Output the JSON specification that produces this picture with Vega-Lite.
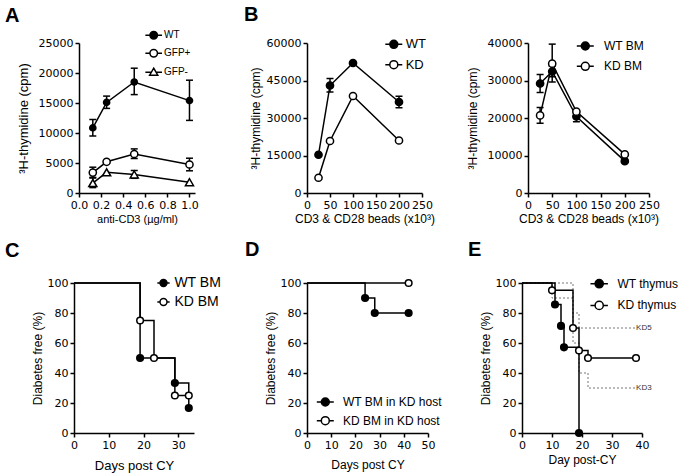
{
  "$schema": "https://vega.github.io/schema/vega-lite/v6.json",
  "background": "white",
  "padding": 5,
  "datasets": {
    "A": [
      {"conc": 0.125, "cpm": 10850, "lo": 9500, "hi": 12250, "group": "WT"},
      {"conc": 0.25, "cpm": 15100, "lo": 14100, "hi": 16150, "group": "WT"},
      {"conc": 0.5, "cpm": 18500, "lo": 16400, "hi": 20800, "group": "WT"},
      {"conc": 1.0, "cpm": 15400, "lo": 12100, "hi": 18800, "group": "WT"},
      {"conc": 0.125, "cpm": 3400, "lo": 2500, "hi": 4300, "group": "GFP+"},
      {"conc": 0.25, "cpm": 5200, "group": "GFP+"},
      {"conc": 0.5, "cpm": 6500, "lo": 5750, "hi": 7350, "group": "GFP+"},
      {"conc": 1.0, "cpm": 4750, "lo": 3700, "hi": 5800, "group": "GFP+"},
      {"conc": 0.125, "cpm": 1650, "lo": 900, "hi": 2600, "group": "GFP-"},
      {"conc": 0.25, "cpm": 3450, "group": "GFP-"},
      {"conc": 0.5, "cpm": 3100, "lo": 2450, "hi": 3750, "group": "GFP-"},
      {"conc": 1.0, "cpm": 1800, "group": "GFP-"}
    ],
    "B1": [
      {"beads": 25, "cpm": 15300, "group": "WT"},
      {"beads": 50, "cpm": 43000, "lo": 40400, "hi": 45800, "group": "WT"},
      {"beads": 100, "cpm": 52000, "group": "WT"},
      {"beads": 200, "cpm": 36400, "lo": 34100, "hi": 38700, "group": "WT"},
      {"beads": 25, "cpm": 6100, "group": "KD"},
      {"beads": 50, "cpm": 20800, "group": "KD"},
      {"beads": 100, "cpm": 38800, "group": "KD"},
      {"beads": 200, "cpm": 21000, "group": "KD"}
    ],
    "B2": [
      {"beads": 25, "cpm": 29200, "lo": 26800, "hi": 31600, "group": "WT BM"},
      {"beads": 50, "cpm": 32400, "lo": 31000, "hi": 33800, "group": "WT BM"},
      {"beads": 100, "cpm": 20400, "lo": 19000, "hi": 21500, "group": "WT BM"},
      {"beads": 200, "cpm": 8500, "group": "WT BM"},
      {"beads": 25, "cpm": 20700, "lo": 18600, "hi": 22800, "group": "KD BM"},
      {"beads": 50, "cpm": 34500, "lo": 29600, "hi": 39700, "group": "KD BM"},
      {"beads": 100, "cpm": 21700, "group": "KD BM"},
      {"beads": 200, "cpm": 10300, "group": "KD BM"}
    ],
    "C": [
      {"day": 0, "pct": 100, "group": "WT BM"},
      {"day": 19, "pct": 50, "group": "WT BM"},
      {"day": 29, "pct": 33.3, "group": "WT BM"},
      {"day": 33, "pct": 16.7, "group": "WT BM"},
      {"day": 0, "pct": 100, "group": "KD BM"},
      {"day": 19, "pct": 75, "group": "KD BM"},
      {"day": 23, "pct": 50, "group": "KD BM"},
      {"day": 29, "pct": 25, "group": "KD BM"},
      {"day": 33, "pct": 25, "group": "KD BM"}
    ],
    "D": [
      {"day": 0, "pct": 100, "group": "WT BM in KD host"},
      {"day": 24, "pct": 90, "group": "WT BM in KD host"},
      {"day": 28, "pct": 80, "group": "WT BM in KD host"},
      {"day": 42, "pct": 80, "group": "WT BM in KD host"},
      {"day": 0, "pct": 100, "group": "KD BM in KD host"},
      {"day": 42, "pct": 100, "group": "KD BM in KD host"}
    ],
    "E": [
      {"day": 0, "pct": 100, "group": "WT thymus"},
      {"day": 11, "pct": 85.7, "group": "WT thymus"},
      {"day": 13, "pct": 71.4, "group": "WT thymus"},
      {"day": 14, "pct": 57.1, "group": "WT thymus"},
      {"day": 19, "pct": 0, "group": "WT thymus"},
      {"day": 0, "pct": 100, "group": "KD thymus"},
      {"day": 10, "pct": 95.2, "group": "KD thymus"},
      {"day": 17, "pct": 70, "group": "KD thymus"},
      {"day": 19, "pct": 55, "group": "KD thymus"},
      {"day": 22, "pct": 50, "group": "KD thymus"},
      {"day": 38, "pct": 50, "group": "KD thymus"}
    ],
    "Elines": [
      {"day": 0, "pct": 100, "line": "KD5"},
      {"day": 17, "pct": 80, "line": "KD5"},
      {"day": 19, "pct": 70, "line": "KD5"},
      {"day": 37.7, "pct": 70, "line": "KD5"},
      {"day": 0, "pct": 100, "line": "KD3"},
      {"day": 10, "pct": 90, "line": "KD3"},
      {"day": 17, "pct": 60, "line": "KD3"},
      {"day": 19, "pct": 40, "line": "KD3"},
      {"day": 22, "pct": 30, "line": "KD3"},
      {"day": 37.7, "pct": 30, "line": "KD3"}
    ],
    "Elabels": [
      {"day": 37.7, "pct": 70, "line": "KD5"},
      {"day": 37.7, "pct": 30, "line": "KD3"}
    ]
  },
  "vconcat": [
    {
      "hconcat": [
        {"width": 5, "height": 150, "data": {"values": []}, "mark": {"type": "point"}, "encoding": {}},
        {
          "title": {"text": "A", "dx": -74, "offset": 4},
          "width": 116, "height": 150,
          "data": {"name": "A"},
          "layer": [
            {"mark": {"type": "line", "color": "black", "strokeWidth": 1.5},
             "encoding": {
               "x": {"field": "conc", "type": "quantitative", "title": "anti-CD3 (µg/ml)", "scale": {"domain": [0, 1.05], "nice": false, "zero": false}, "axis": {"values": [0, 0.2, 0.4, 0.6, 0.8, 1], "tickCount": 20, "format": ".1f", "titlePadding": 3, "titleFontSize": 11, "labelOverlap": false}},
               "y": {"field": "cpm", "type": "quantitative", "title": "³H-thymidine (cpm)", "scale": {"domain": [0, 25000], "nice": false}, "axis": {"values": [0, 5000, 10000, 15000, 20000, 25000], "tickCount": 20, "format": "d", "titlePadding": 8, "titleFontSize": 13, "labelOverlap": false}},
               "detail": {"field": "group"}}},
            {"mark": {"type": "rule", "color": "black", "strokeWidth": 1.5},
             "encoding": {"x": {"field": "conc", "type": "quantitative", "title": "anti-CD3 (µg/ml)"}, "y": {"field": "lo", "type": "quantitative", "title": "³H-thymidine (cpm)"}, "y2": {"field": "hi"}}},
            {"mark": {"type": "tick", "orient": "horizontal", "color": "black", "size": 7, "thickness": 1.5, "opacity": 1},
             "encoding": {"x": {"field": "conc", "type": "quantitative", "title": "anti-CD3 (µg/ml)"}, "y": {"field": "lo", "type": "quantitative", "title": "³H-thymidine (cpm)"}}},
            {"mark": {"type": "tick", "orient": "horizontal", "color": "black", "size": 7, "thickness": 1.5, "opacity": 1},
             "encoding": {"x": {"field": "conc", "type": "quantitative", "title": "anti-CD3 (µg/ml)"}, "y": {"field": "hi", "type": "quantitative", "title": "³H-thymidine (cpm)"}}},
            {"mark": {"type": "point", "stroke": "black", "strokeWidth": 1.5, "opacity": 1},
             "encoding": {
               "x": {"field": "conc", "type": "quantitative", "title": "anti-CD3 (µg/ml)"},
               "y": {"field": "cpm", "type": "quantitative", "title": "³H-thymidine (cpm)"},
               "shape": {"field": "group", "type": "nominal", "scale": {"domain": ["WT", "GFP+", "GFP-"], "range": ["circle", "circle", "triangle-up"]}, "legend": null},
               "fill": {"field": "group", "type": "nominal", "scale": {"domain": ["WT", "GFP+", "GFP-"], "range": ["black", "white", "white"]}, "legend": null},
               "size": {"field": "group", "type": "nominal", "scale": {"domain": ["WT", "GFP+", "GFP-"], "range": [38, 65, 80]}, "legend": null}}},
            {"data": {"values": []},
             "mark": {"type": "point", "stroke": "black", "strokeWidth": 1.5, "opacity": 1},
             "encoding": {
               "x": {"field": "conc", "type": "quantitative", "title": "anti-CD3 (µg/ml)"},
               "y": {"field": "cpm", "type": "quantitative", "title": "³H-thymidine (cpm)"},
               "shape": {"field": "group", "type": "nominal", "scale": {"domain": ["WT", "GFP+", "GFP-"], "range": ["M-2.15,0H-0.97M0.97,0H2.15M0.97,0A0.97,0.97,0,1,1,-0.97,0A0.97,0.97,0,1,1,0.97,0Z", "M-2.15,0H-0.97M0.97,0H2.15M0.97,0A0.97,0.97,0,1,1,-0.97,0A0.97,0.97,0,1,1,0.97,0Z", "M-2.15,0H-0.6M0.6,0H2.15M0,-1.05L1.05,0.75L-1.05,0.75Z"]},
                 "legend": {"title": null, "orient": "none", "legendX": 69.7, "legendY": -12.75, "symbolSize": 60, "symbolStrokeWidth": 1.5, "labelFontSize": 10, "labelOffset": 5.3, "rowPadding": 4, "padding": 0}},
               "fill": {"field": "group", "type": "nominal", "scale": {"domain": ["WT", "GFP+", "GFP-"], "range": ["black", "white", "white"]},
                 "legend": {"title": null, "orient": "none", "legendX": 69.7, "legendY": -12.75, "symbolSize": 60, "symbolStrokeWidth": 1.5, "labelFontSize": 10, "labelOffset": 5.3, "rowPadding": 4, "padding": 0}}}}
          ],
          "resolve": {"scale": {"shape": "independent", "fill": "independent", "size": "independent"}}
        },
        {"width": 112, "height": 150, "data": {"values": []}, "mark": {"type": "point"}, "encoding": {}},
        {
          "title": {"text": "B", "dx": -63, "offset": 12},
          "width": 115, "height": 150,
          "data": {"name": "B1"},
          "layer": [
            {"mark": {"type": "line", "color": "black", "strokeWidth": 1.5},
             "encoding": {
               "x": {"field": "beads", "type": "quantitative", "title": "CD3 & CD28 beads (x10³)", "scale": {"domain": [0, 250], "nice": false}, "axis": {"values": [0, 50, 100, 150, 200, 250], "tickCount": 20, "titlePadding": 3, "labelOverlap": false}},
               "y": {"field": "cpm", "type": "quantitative", "title": "³H-thymidine (cpm)", "scale": {"domain": [0, 60000], "nice": false}, "axis": {"values": [0, 15000, 30000, 45000, 60000], "tickCount": 20, "format": "d", "titlePadding": 4, "labelOverlap": false}},
               "detail": {"field": "group"}}},
            {"mark": {"type": "rule", "color": "black", "strokeWidth": 1.5},
             "encoding": {"x": {"field": "beads", "type": "quantitative", "title": "CD3 & CD28 beads (x10³)"}, "y": {"field": "lo", "type": "quantitative", "title": "³H-thymidine (cpm)"}, "y2": {"field": "hi"}}},
            {"mark": {"type": "tick", "orient": "horizontal", "color": "black", "size": 7, "thickness": 1.5, "opacity": 1},
             "encoding": {"x": {"field": "beads", "type": "quantitative", "title": "CD3 & CD28 beads (x10³)"}, "y": {"field": "lo", "type": "quantitative", "title": "³H-thymidine (cpm)"}}},
            {"mark": {"type": "tick", "orient": "horizontal", "color": "black", "size": 7, "thickness": 1.5, "opacity": 1},
             "encoding": {"x": {"field": "beads", "type": "quantitative", "title": "CD3 & CD28 beads (x10³)"}, "y": {"field": "hi", "type": "quantitative", "title": "³H-thymidine (cpm)"}}},
            {"mark": {"type": "point", "shape": "circle", "size": 52, "stroke": "black", "strokeWidth": 1.5, "opacity": 1},
             "encoding": {
               "x": {"field": "beads", "type": "quantitative", "title": "CD3 & CD28 beads (x10³)"},
               "y": {"field": "cpm", "type": "quantitative", "title": "³H-thymidine (cpm)"},
               "fill": {"field": "group", "type": "nominal", "scale": {"domain": ["WT", "KD"], "range": ["black", "white"]},
                 "legend": {"title": null, "orient": "none", "legendX": 80.3, "legendY": -5.2, "symbolType": "M-2,0H-0.94M0.94,0H2M0.94,0A0.94,0.94,0,1,1,-0.94,0A0.94,0.94,0,1,1,0.94,0Z", "symbolSize": 72, "symbolStrokeWidth": 1.5, "symbolStrokeColor": "black", "labelFontSize": 13, "labelOffset": 5.4, "rowPadding": 5.4, "padding": 0}}}}
          ]
        },
        {"width": 106, "height": 150, "data": {"values": []}, "mark": {"type": "point"}, "encoding": {}},
        {
          "width": 121, "height": 150,
          "data": {"name": "B2"},
          "layer": [
            {"mark": {"type": "line", "color": "black", "strokeWidth": 1.5},
             "encoding": {
               "x": {"field": "beads", "type": "quantitative", "title": "CD3 & CD28 beads (x10³)", "scale": {"domain": [0, 250], "nice": false}, "axis": {"values": [0, 50, 100, 150, 200, 250], "tickCount": 20, "titlePadding": 3, "labelOverlap": false}},
               "y": {"field": "cpm", "type": "quantitative", "title": "³H-thymidine (cpm)", "scale": {"domain": [0, 40000], "nice": false}, "axis": {"values": [0, 10000, 20000, 30000, 40000], "tickCount": 20, "format": "d", "titlePadding": 8, "labelOverlap": false}},
               "detail": {"field": "group"}}},
            {"mark": {"type": "rule", "color": "black", "strokeWidth": 1.5},
             "encoding": {"x": {"field": "beads", "type": "quantitative", "title": "CD3 & CD28 beads (x10³)"}, "y": {"field": "lo", "type": "quantitative", "title": "³H-thymidine (cpm)"}, "y2": {"field": "hi"}}},
            {"mark": {"type": "tick", "orient": "horizontal", "color": "black", "size": 7, "thickness": 1.5, "opacity": 1},
             "encoding": {"x": {"field": "beads", "type": "quantitative", "title": "CD3 & CD28 beads (x10³)"}, "y": {"field": "lo", "type": "quantitative", "title": "³H-thymidine (cpm)"}}},
            {"mark": {"type": "tick", "orient": "horizontal", "color": "black", "size": 7, "thickness": 1.5, "opacity": 1},
             "encoding": {"x": {"field": "beads", "type": "quantitative", "title": "CD3 & CD28 beads (x10³)"}, "y": {"field": "hi", "type": "quantitative", "title": "³H-thymidine (cpm)"}}},
            {"mark": {"type": "point", "shape": "circle", "size": 52, "stroke": "black", "strokeWidth": 1.5, "opacity": 1},
             "encoding": {
               "x": {"field": "beads", "type": "quantitative", "title": "CD3 & CD28 beads (x10³)"},
               "y": {"field": "cpm", "type": "quantitative", "title": "³H-thymidine (cpm)"},
               "fill": {"field": "group", "type": "nominal", "scale": {"domain": ["WT BM", "KD BM"], "range": ["black", "white"]},
                 "legend": {"title": null, "orient": "none", "legendX": 51.3, "legendY": -3, "symbolType": "M-2,0H-0.94M0.94,0H2M0.94,0A0.94,0.94,0,1,1,-0.94,0A0.94,0.94,0,1,1,0.94,0Z", "symbolSize": 72, "symbolStrokeWidth": 1.5, "symbolStrokeColor": "black", "labelFontSize": 12, "labelOffset": 12.7, "rowPadding": 6.3, "padding": 0}}}}
          ]
        }
      ],
      "spacing": 0,
      "bounds": "flush",
      "resolve": {"scale": {"fill": "independent", "shape": "independent", "size": "independent"}, "legend": {"fill": "independent", "shape": "independent", "size": "independent"}}
    },
    {
      "hconcat": [
        {
          "title": {"text": "C", "dx": -69, "offset": 15},
          "width": 120, "height": 150,
          "data": {"name": "C"},
          "layer": [
            {"mark": {"type": "line", "interpolate": "step-after", "color": "black", "strokeWidth": 1.5},
             "encoding": {
               "x": {"field": "day", "type": "quantitative", "title": "Days post CY", "scale": {"domain": [0, 34.5], "nice": false}, "axis": {"values": [0, 10, 20, 30], "tickCount": 20, "titlePadding": 9, "titleFontSize": 13, "labelOverlap": false}},
               "y": {"field": "pct", "type": "quantitative", "title": "Diabetes free (%)", "scale": {"domain": [0, 100], "nice": false}, "axis": {"values": [0, 20, 40, 60, 80, 100], "tickCount": 20, "titlePadding": 3, "labelOverlap": false}},
               "detail": {"field": "group"}}},
            {"transform": [{"filter": "datum.day > 0"}],
             "mark": {"type": "point", "shape": "circle", "size": 44, "stroke": "black", "strokeWidth": 1.5, "opacity": 1},
             "encoding": {
               "x": {"field": "day", "type": "quantitative", "title": "Days post CY"},
               "y": {"field": "pct", "type": "quantitative", "title": "Diabetes free (%)"},
               "fill": {"field": "group", "type": "nominal", "scale": {"domain": ["WT BM", "KD BM"], "range": ["black", "white"]},
                 "legend": {"title": null, "orient": "none", "legendX": 82.5, "legendY": -7, "symbolType": "M-2,0H-1.13M1.13,0H2M1.13,0A1.13,1.13,0,1,1,-1.13,0A1.13,1.13,0,1,1,1.13,0Z", "symbolSize": 38, "symbolStrokeWidth": 1.5, "symbolStrokeColor": "black", "labelFontSize": 14, "labelOffset": 3.9, "rowPadding": 5, "padding": 0}}}}
          ]
        },
        {"width": 113, "height": 150, "data": {"values": []}, "mark": {"type": "point"}, "encoding": {}},
        {
          "title": {"text": "D", "dx": -62, "offset": 17},
          "width": 121, "height": 150,
          "data": {"name": "D"},
          "layer": [
            {"mark": {"type": "line", "interpolate": "step-after", "color": "black", "strokeWidth": 1.5},
             "encoding": {
               "x": {"field": "day", "type": "quantitative", "title": "Days post CY", "scale": {"domain": [0, 50], "nice": false}, "axis": {"values": [0, 10, 20, 30, 40, 50], "tickCount": 20, "titlePadding": 9, "labelOverlap": false}},
               "y": {"field": "pct", "type": "quantitative", "title": "Diabetes free (%)", "scale": {"domain": [0, 100], "nice": false}, "axis": {"values": [0, 20, 40, 60, 80, 100], "tickCount": 20, "titlePadding": 3, "labelOverlap": false}},
               "detail": {"field": "group"}}},
            {"transform": [{"filter": "datum.day > 0"}],
             "mark": {"type": "point", "shape": "circle", "size": 44, "stroke": "black", "strokeWidth": 1.5, "opacity": 1},
             "encoding": {
               "x": {"field": "day", "type": "quantitative", "title": "Days post CY"},
               "y": {"field": "pct", "type": "quantitative", "title": "Diabetes free (%)"},
               "fill": {"field": "group", "type": "nominal", "scale": {"domain": ["WT BM in KD host", "KD BM in KD host"], "range": ["black", "white"]},
                 "legend": {"title": null, "orient": "none", "legendX": 12.3, "legendY": 113, "symbolType": "M-2,0H-0.94M0.94,0H2M0.94,0A0.94,0.94,0,1,1,-0.94,0A0.94,0.94,0,1,1,0.94,0Z", "symbolSize": 72, "symbolStrokeWidth": 1.5, "symbolStrokeColor": "black", "labelFontSize": 12, "labelOffset": 11.7, "rowPadding": 4.7, "padding": 0}}}}
          ]
        },
        {"width": 94, "height": 150, "data": {"values": []}, "mark": {"type": "point"}, "encoding": {}},
        {
          "title": {"text": "E", "dx": -54, "offset": 17},
          "width": 120, "height": 150,
          "layer": [
            {"data": {"name": "Elines"},
             "mark": {"type": "line", "interpolate": "step-after", "color": "#777777", "strokeWidth": 1, "strokeDash": [2, 2]},
             "encoding": {
               "x": {"field": "day", "type": "quantitative", "title": "Day post-CY", "scale": {"domain": [0, 40], "nice": false}, "axis": {"values": [0, 10, 20, 30, 40], "tickCount": 20, "titlePadding": 4, "labelOverlap": false}},
               "y": {"field": "pct", "type": "quantitative", "title": "Diabetes free (%)", "scale": {"domain": [0, 100], "nice": false}, "axis": {"values": [0, 20, 40, 60, 80, 100], "tickCount": 20, "titlePadding": 3, "labelOverlap": false}},
               "detail": {"field": "line"}}},
            {"data": {"name": "Elabels"},
             "mark": {"type": "text", "align": "left", "baseline": "middle", "dx": 1, "fontSize": 8, "fill": "#333333", "font": "Liberation Sans"},
             "encoding": {
               "x": {"field": "day", "type": "quantitative", "title": "Day post-CY"},
               "y": {"field": "pct", "type": "quantitative", "title": "Diabetes free (%)"},
               "text": {"field": "line"}}},
            {"data": {"name": "E"},
             "mark": {"type": "line", "interpolate": "step-after", "color": "black", "strokeWidth": 1.5},
             "encoding": {
               "x": {"field": "day", "type": "quantitative", "title": "Day post-CY"},
               "y": {"field": "pct", "type": "quantitative", "title": "Diabetes free (%)"},
               "detail": {"field": "group"}}},
            {"data": {"name": "E"},
             "transform": [{"filter": "datum.day > 0"}],
             "mark": {"type": "point", "shape": "circle", "size": 44, "stroke": "black", "strokeWidth": 1.5, "opacity": 1},
             "encoding": {
               "x": {"field": "day", "type": "quantitative", "title": "Day post-CY"},
               "y": {"field": "pct", "type": "quantitative", "title": "Diabetes free (%)"},
               "fill": {"field": "group", "type": "nominal", "scale": {"domain": ["WT thymus", "KD thymus"], "range": ["black", "white"]},
                 "legend": {"title": null, "orient": "none", "legendX": 71.2, "legendY": -5.3, "symbolType": "M-2,0H-0.94M0.94,0H2M0.94,0A0.94,0.94,0,1,1,-0.94,0A0.94,0.94,0,1,1,0.94,0Z", "symbolSize": 76, "symbolStrokeWidth": 1.5, "symbolStrokeColor": "black", "labelFontSize": 12, "labelOffset": 12.3, "rowPadding": 5.7, "padding": 0}}}}
          ]
        }
      ],
      "spacing": 0,
      "bounds": "flush",
      "resolve": {"scale": {"fill": "independent"}, "legend": {"fill": "independent"}}
    }
  ],
  "spacing": 15,
  "resolve": {"scale": {"fill": "independent", "shape": "independent", "size": "independent"}, "legend": {"fill": "independent", "shape": "independent", "size": "independent"}},
  "config": {
    "view": {"stroke": null},
    "font": "Liberation Sans",
    "title": {"anchor": "start", "frame": "group", "fontSize": 20, "font": "Liberation Sans", "fontWeight": "bold", "color": "black"},
    "axis": {"grid": false, "domainColor": "black", "domainWidth": 1.5, "tickColor": "black", "tickWidth": 1.5, "tickSize": 4, "labelColor": "black", "labelFont": "DejaVu Sans", "labelFontSize": 11, "labelPadding": 2, "labelFlush": false, "labelOverlap": false, "labelBound": false, "titleColor": "black", "titleFont": "Liberation Sans", "titleFontSize": 12, "titleFontWeight": "normal"},
    "legend": {"labelFont": "Liberation Sans", "labelColor": "black", "padding": 0}
  }
}
